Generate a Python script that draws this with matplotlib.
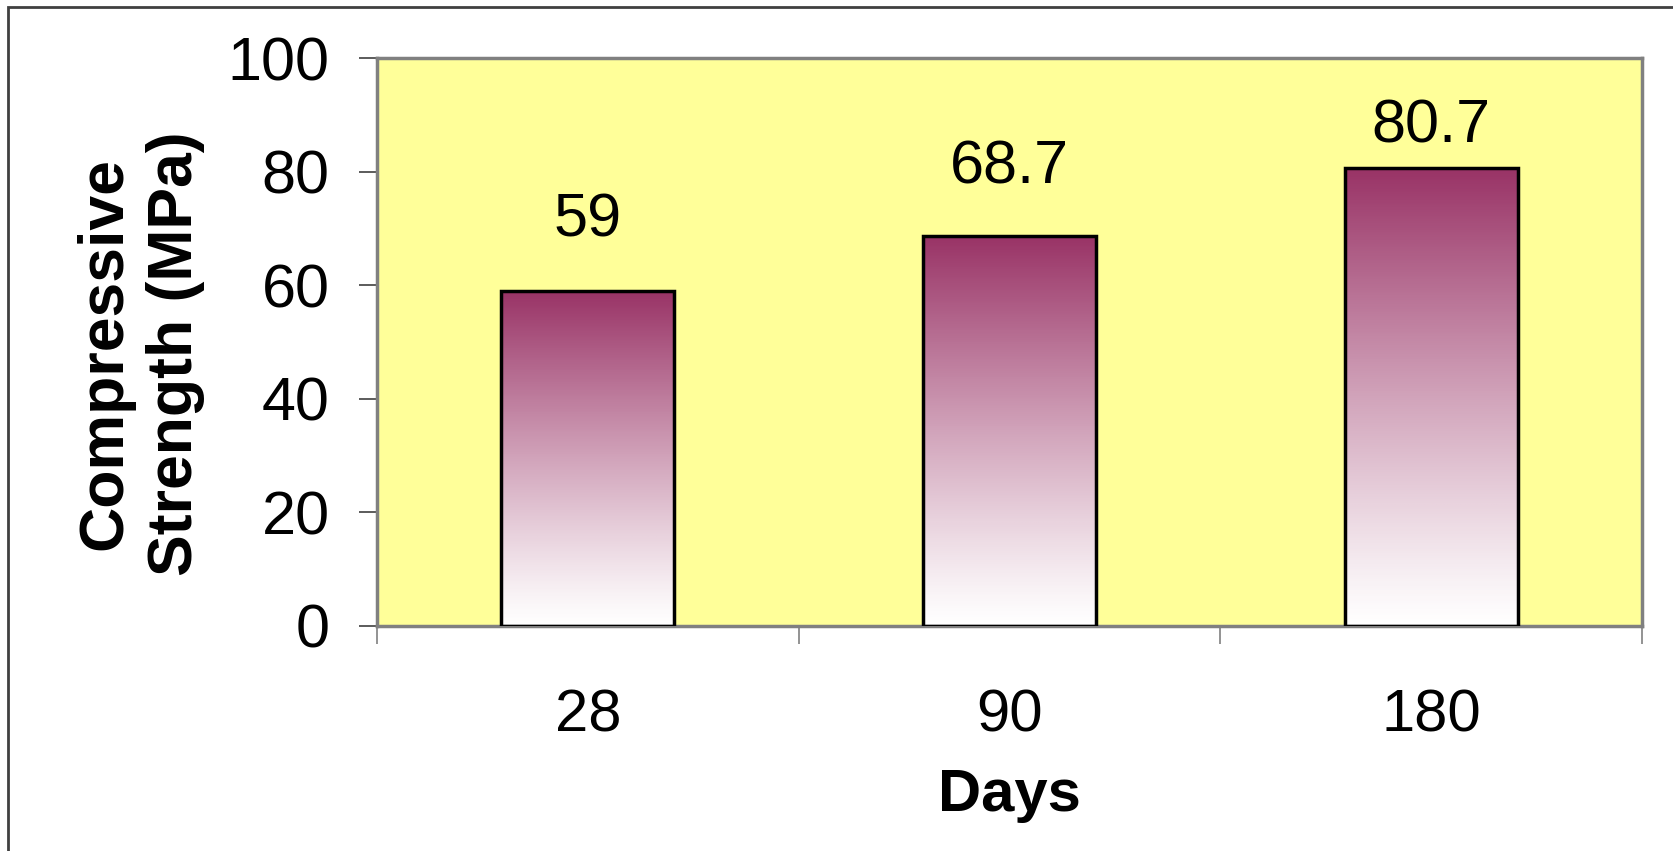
import matplotlib.pyplot as plt
import matplotlib.patches as patches
import numpy as np
from matplotlib.colors import LinearSegmentedColormap

plt.rcParams['font.family'] = ['Liberation Sans', 'DejaVu Sans']

days = ['28', '90', '180']
strength = [59, 68.7, 80.7]
labels = ['59', '68.7', '80.7']
yticks = [0, 20, 40, 60, 80, 100]

# label distance above each bar (points), as placed in the original
label_offsets = [50, 49, 29]

fig = plt.figure(figsize=(16.74, 8.51), dpi=100)
ax = fig.add_axes([0.2252, 0.2644, 0.7558, 0.6674])
ax.set_facecolor('#FFFF99')

# outer chart frame
frame = patches.Rectangle((0.0045, -0.01), 1.2, 1.0015, transform=fig.transFigure,
                          fill=False, edgecolor='#404040', linewidth=2, zorder=0)
fig.patches.append(frame)

cmap = LinearSegmentedColormap.from_list('plum', ['#FFFFFF', '#993366'])
grad = np.linspace(0, 1, 256).reshape(-1, 1) ** 1.15
width = 0.41
x = np.arange(len(days))
for xi, h in zip(x, strength):
    ax.imshow(grad, extent=[xi - width / 2, xi + width / 2, 0, h], origin='lower',
              cmap=cmap, vmin=0, vmax=1, aspect='auto', zorder=2)
bars = ax.bar(x, strength, width=width, facecolor='none', edgecolor='black',
              linewidth=2.5, zorder=3)

for xi, h, lab, off in zip(x, strength, labels, label_offsets):
    ax.annotate(lab, (xi, h), xytext=(0, off), textcoords='offset points',
                ha='center', va='center', fontsize=44)

ax.set_xlim(-0.5, len(days) - 0.5)
ax.set_ylim(0, 100)
ax.set_yticks(yticks)
ax.set_yticklabels([str(t) for t in yticks], fontsize=44)
ax.set_xticks(x)
ax.set_xticklabels(days, fontsize=43)
ax.set_xticks(np.arange(len(days) + 1) - 0.5, minor=True)
ax.tick_params(axis='x', which='major', length=0, pad=45)
ax.tick_params(axis='x', which='minor', length=13, width=1.2, color='#808080')
ax.tick_params(axis='y', length=13, width=1.2, color='#404040', pad=21)

for s in ax.spines.values():
    s.set_color('#808080')
    s.set_linewidth(2.5)

ax.set_xlabel('Days', fontsize=43, fontweight='bold', labelpad=18)
ax.set_ylabel('Compressive\nStrength (MPa)', fontsize=45, fontweight='bold',
              linespacing=1.25)
ax.yaxis.set_label_coords(-0.136, 0.48)

plt.savefig('out.png', dpi=100)
